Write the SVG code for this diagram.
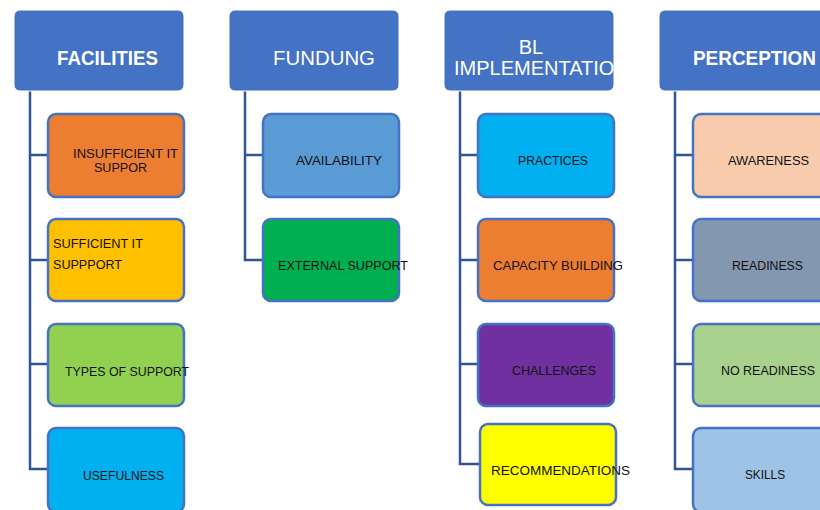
<svg xmlns="http://www.w3.org/2000/svg" width="820" height="510" viewBox="0 0 820 510">
<style>
.hdr{fill:#4472C4;stroke:#ffffff;stroke-width:1}
.box{stroke:#4472C4;stroke-width:2.5}
.ht{font-family:"Liberation Sans",Arial,sans-serif;fill:#ffffff;font-size:20px}
.hb{font-weight:bold;font-size:19.5px}
.ct{font-family:"Liberation Sans",Arial,sans-serif;fill:#111111;font-size:13.5px}
.conn{fill:none;stroke:#2F5597;stroke-width:2.5}
</style>
<defs>
<clipPath id="clipBL"><rect x="445" y="10" width="169" height="81"/></clipPath>
</defs>
<rect width="820" height="510" fill="#ffffff"/>
<g id="connectors">
<path class="conn" d="M30 91 V469 H47 M30 155 H47 M30 260 H47 M30 364 H47"/>
<path class="conn" d="M245 91 V260 H262 M245 155 H262"/>
<path class="conn" d="M460 91 V464 H479 M460 155 H477 M460 260 H477 M460 364 H477"/>
<path class="conn" d="M675 91 V469 H692 M675 155 H692 M675 260 H692 M675 364 H692"/>
</g>
<g id="facilities">
<rect class="hdr" x="14" y="10" width="170" height="81" rx="6"/>
<text class="ht hb" x="57" y="65" textLength="101" lengthAdjust="spacingAndGlyphs">FACILITIES</text>
</g>
<g id="fundung">
<rect class="hdr" x="229" y="10" width="170" height="81" rx="6"/>
<text class="ht" x="273" y="65" textLength="102" lengthAdjust="spacingAndGlyphs">FUNDUNG</text>
</g>
<g id="bl-implementation">
<rect class="hdr" x="444" y="10" width="170" height="81" rx="6"/>
<g clip-path="url(#clipBL)">
<text class="ht" x="531" y="54" text-anchor="middle">BL</text>
<text class="ht" x="454" y="75">IMPLEMENTATION</text>
</g>
</g>
<g id="perception">
<rect class="hdr" x="659" y="10" width="180" height="81" rx="6"/>
<text class="ht hb" x="693" y="65" textLength="123" lengthAdjust="spacingAndGlyphs">PERCEPTION</text>
</g>
<g id="insufficient-it-suppor">
<rect class="box" x="48" y="114" width="136" height="83" rx="8" fill="#ED7D31"/>
<text class="ct" x="73" y="158" textLength="105" lengthAdjust="spacingAndGlyphs">INSUFFICIENT IT</text>
<text class="ct" x="94" y="172" textLength="53" lengthAdjust="spacingAndGlyphs">SUPPOR</text>
</g>
<g id="sufficient-it-suppport">
<rect class="box" x="48" y="219" width="136" height="82" rx="8" fill="#FFC000"/>
<text class="ct" x="53" y="248" textLength="90" lengthAdjust="spacingAndGlyphs">SUFFICIENT IT</text>
<text class="ct" x="53" y="269" textLength="69" lengthAdjust="spacingAndGlyphs">SUPPPORT</text>
</g>
<g id="types-of-support">
<rect class="box" x="48" y="324" width="136" height="82" rx="8" fill="#92D050"/>
<text class="ct" x="65" y="376" textLength="124" lengthAdjust="spacingAndGlyphs">TYPES OF SUPPORT</text>
</g>
<g id="usefulness">
<rect class="box" x="48" y="428" width="136" height="84" rx="8" fill="#00B0F0"/>
<text class="ct" x="83" y="480" textLength="81" lengthAdjust="spacingAndGlyphs">USEFULNESS</text>
</g>
<g id="availability">
<rect class="box" x="263" y="114" width="136" height="83" rx="8" fill="#5B9BD5"/>
<text class="ct" x="296" y="165" textLength="86" lengthAdjust="spacingAndGlyphs">AVAILABILITY</text>
</g>
<g id="external-support">
<rect class="box" x="263" y="219" width="136" height="82" rx="8" fill="#00B050"/>
<text class="ct" x="278" y="270" textLength="130" lengthAdjust="spacingAndGlyphs">EXTERNAL SUPPORT</text>
</g>
<g id="practices">
<rect class="box" x="478" y="114" width="136" height="83" rx="8" fill="#00B0F0"/>
<text class="ct" x="518" y="165" textLength="70" lengthAdjust="spacingAndGlyphs">PRACTICES</text>
</g>
<g id="capacity-building">
<rect class="box" x="478" y="219" width="136" height="82" rx="8" fill="#ED7D31"/>
<text class="ct" x="493" y="270" textLength="130" lengthAdjust="spacingAndGlyphs">CAPACITY BUILDING</text>
</g>
<g id="challenges">
<rect class="box" x="478" y="324" width="136" height="82" rx="8" fill="#7030A0"/>
<text class="ct" x="512" y="375" textLength="84" lengthAdjust="spacingAndGlyphs">CHALLENGES</text>
</g>
<g id="recommendations">
<rect class="box" x="480" y="424" width="136" height="81" rx="8" fill="#FFFF00"/>
<text class="ct" x="491" y="475" textLength="139" lengthAdjust="spacingAndGlyphs">RECOMMENDATIONS</text>
</g>
<g id="awareness">
<rect class="box" x="693" y="114" width="140" height="83" rx="8" fill="#F8CBAD"/>
<text class="ct" x="728" y="165" textLength="81" lengthAdjust="spacingAndGlyphs">AWARENESS</text>
</g>
<g id="readiness">
<rect class="box" x="693" y="219" width="140" height="82" rx="8" fill="#8497B0"/>
<text class="ct" x="732" y="270" textLength="71" lengthAdjust="spacingAndGlyphs">READINESS</text>
</g>
<g id="no-readiness">
<rect class="box" x="693" y="324" width="140" height="82" rx="8" fill="#A9D18E"/>
<text class="ct" x="721" y="375" textLength="94" lengthAdjust="spacingAndGlyphs">NO READINESS</text>
</g>
<g id="skills">
<rect class="box" x="693" y="428" width="140" height="84" rx="8" fill="#9DC3E6"/>
<text class="ct" x="745" y="479" textLength="40" lengthAdjust="spacingAndGlyphs">SKILLS</text>
</g>
</svg>
